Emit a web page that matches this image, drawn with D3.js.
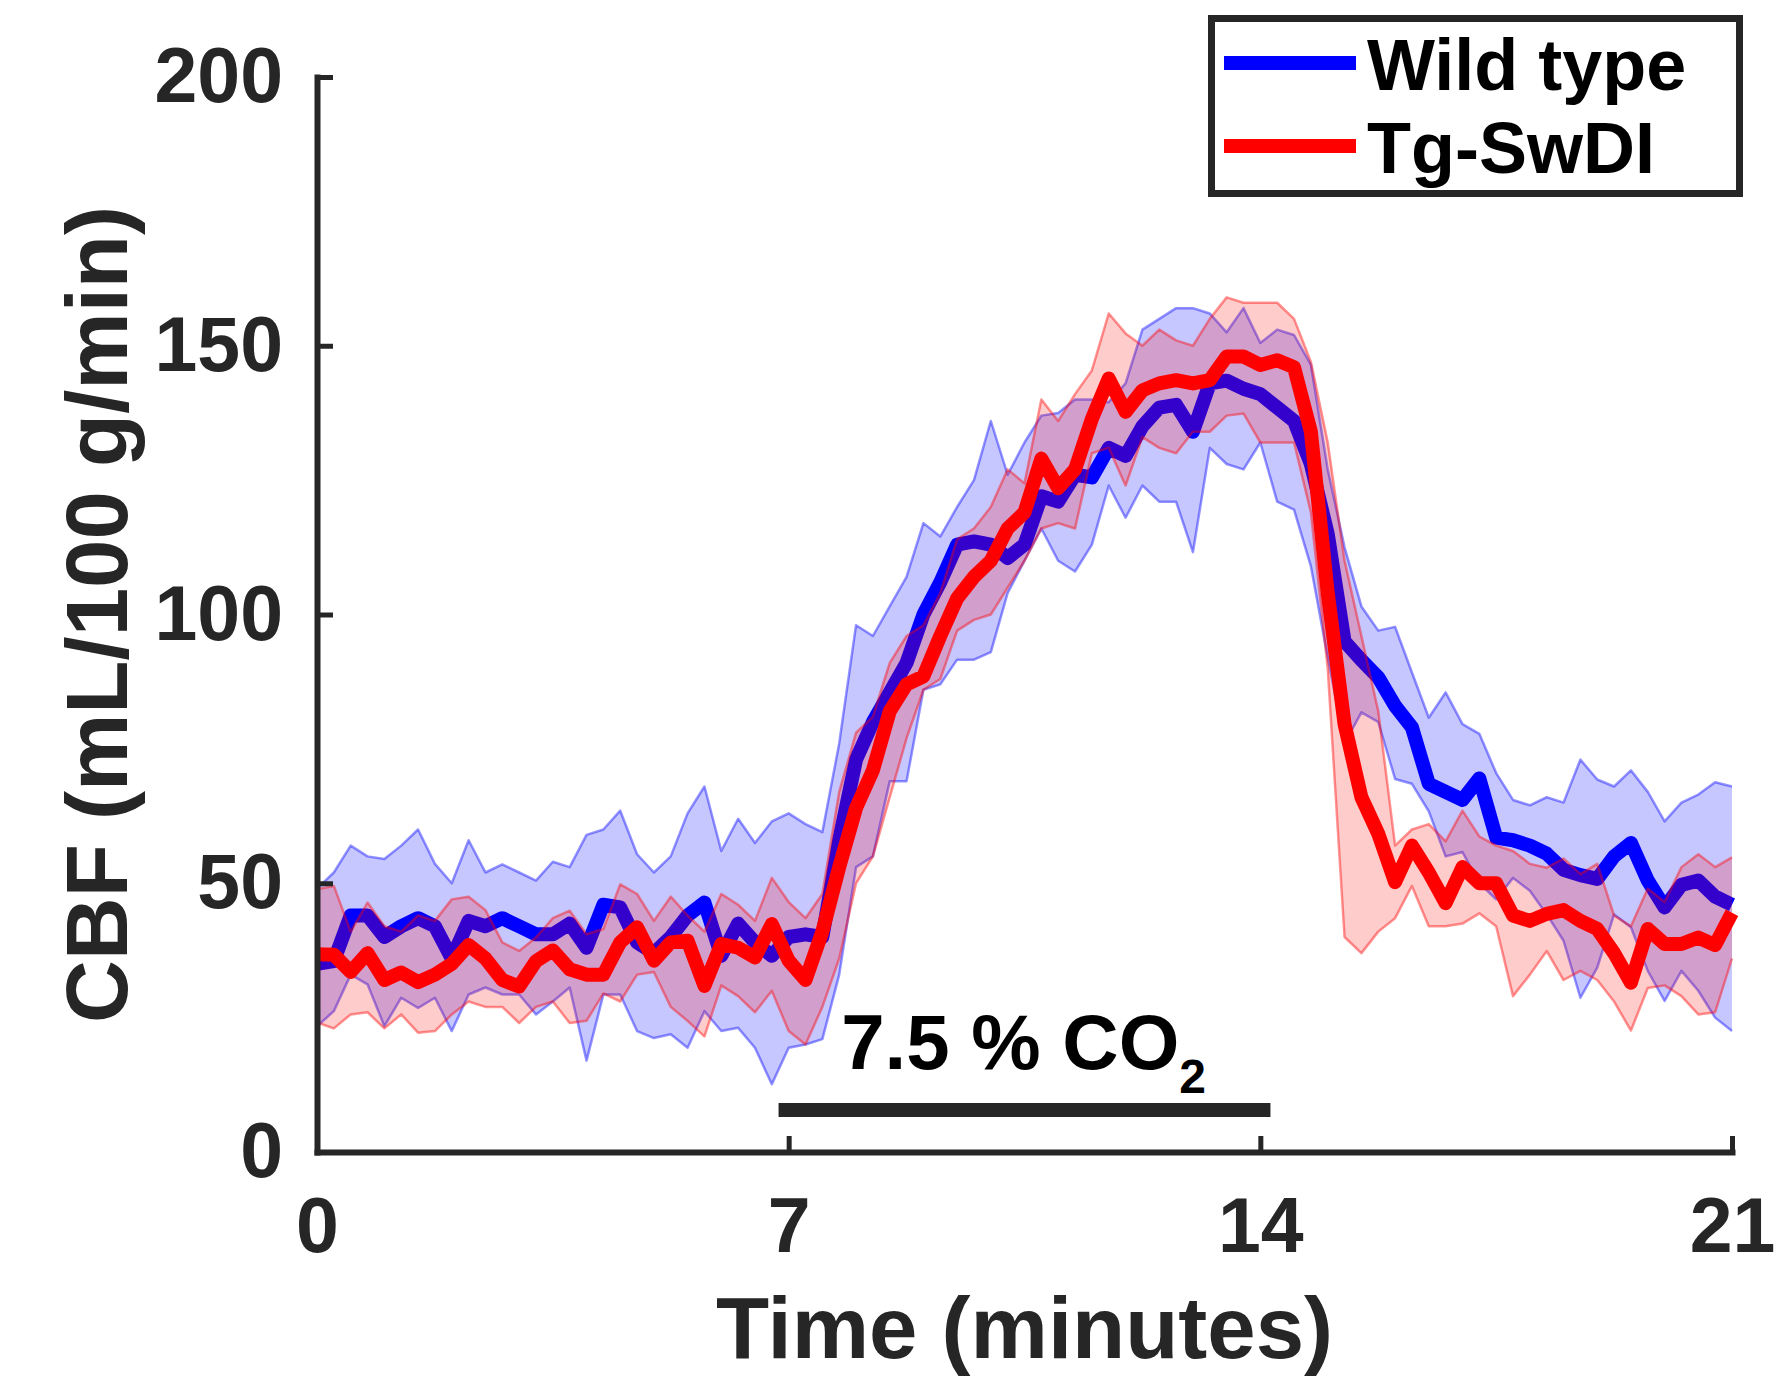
<!DOCTYPE html>
<html>
<head>
<meta charset="utf-8">
<script src="https://cdn.jsdelivr.net/npm/d3@7/dist/d3.min.js"></script>
<style>
  body { margin: 0; background: #fff; }
  svg text { font-family: "Liberation Sans", Arial, Helvetica, sans-serif; font-weight: bold; }
</style>
</head>
<body>
<div id="chart"></div>
<script>
// sample times (minutes)
const timeMin = [0,0.25,0.5,0.75,1,1.25,1.5,1.75,2,2.25,2.5,2.75,3,3.25,3.5,3.75,4,4.25,4.5,4.75,
  5,5.25,5.5,5.75,6,6.25,6.5,6.75,7,7.25,7.5,7.75,8,8.25,8.5,8.75,9,9.25,9.5,9.75,
  10,10.25,10.5,10.75,11,11.25,11.5,11.75,12,12.25,12.5,12.75,13,13.25,13.5,13.75,14,14.25,14.5,14.75,
  15,15.25,15.5,15.75,16,16.25,16.5,16.75,17,17.25,17.5,17.75,18,18.25,18.5,18.75,19,19.25,19.5,19.75,
  20,20.25,20.5,20.75,21];

// Wild type CBF: mean and shaded band
const wtMean = [35,35.5,44,44,40,42,43.5,42,36,43, 42,43.5,42,40.5,40.5,42.5,38,46,45.5,39,
  37,40,44,46.4,36.5,42.5,39,36.5,40,40.5, 40,58,73,80,85.5,91,100,106,113,113.6,
  113,110.5,113,122,121,126,125.5,131,129.5,135, 138.5,139,134,143,143.5,142,141,138.5,136,128,
  115,95,91.5,88.3,83,79,68.5,67,65.5,69.5, 58.5,58,57,55.5,52.5,51.5,50.8,55,57.5,50.5,
  45.5,49.7,50.5,47.5,46];
const wtUpper = [49,52,57,55,54.5,57,60,53.6,50,58, 52,53.5,52,50.5,54,53,59,60,63.5,55.4,
  52,55,63,68,56,62,57.5,61.5,63,61, 59.5,76,98,96,101.5,107,117,114.5,120,125,
  136,126,132,137,137.5,140,140,139.5,143,153, 155,157,157,156,152.5,157,150.5,153,152,146.5,
  127,112.5,101.5,97,97.7,89.2,80.8,85.5,79.6,77.8, 70.5,65.5,64.5,66,65,73,69.3,68,71,67,
  61.5,65,66.5,68.8,68];
const wtLower = [23.4,26.2,33,31.2,23.4,28.7,26.8,28.7,22.5,29.3, 30.6,29.3,29.3,25.6,28,30.6,17,29.3,29.3,22.5,
  21.2,21.9,19.4,26.2,22.5,23.1,19.4,12.6,19.4,20, 21,33,53,55,69,69,86,87,91.6,91.6,
  93,104,110,116,110,108,113,124,118,124, 121,121,111.6,131,128,127,132,121,119.5,109,
  92,76,81.8,80,69.4,68.5,63.4,55,55.8,50, 47,51,48.6,44.2,39.3,28.7,34.3,44.2,41.8,33.7,
  28.1,33.7,30,25,22.5];

// Tg-SwDI CBF: mean and shaded band
const tgMean = [36.8,36.7,33.5,37,32,33.4,31.6,33,35,38.5, 36,32,30.8,35.5,37.5,34,33,33,39,41.8,
  35.6,39,39.3,30.9,38.7,38,36.2,42.4,35.6,32, 41,53,64,71,82,87,88.5,96,103,107,
  110,116,119,129,123.5,127,136.4,143.9,137.7,141.7, 143,143.6,143,143.6,148,148,146.4,147.3,146,134,
  104,79.6,66,59.2,50.2,57,52,46.3,53,50, 50,44,43,44.3,45,43,41.5,37,31.5,41.5,
  38.7,38.7,39.9,38.5,44.5];
const tgUpper = [48.9,49.5,41,46.4,42,41,44,43,47,47.5, 45,39,37.4,39.9,43.5,44.9,40.5,41.5,49.8,48,
  43,47.5,44,41,48,46,43,51,46.5,43.5, 48,67,78,81,91,96,98,104,114,116,
  120,127,124.4,140,136,141,145.4,156,152.3,150, 153,151,150,155,159,158,158,158,155,147,
  132,110,96,82,57,60,61,57.8,63.5,58.7, 57,56,53.6,52.9,54.6,51.7,53.6,44,42,49,
  46.5,53,55.4,53,54.8];
const tgLower = [24.1,23,25.6,26,23,25.6,22.2,22.5,25.6,28, 27,27,24,27,28,24,24.4,29.5,28,33,
  33.5,27,24.4,21.5,31,29,26,30,22.5,20, 27,36,50,55,66,77,86,88,97,99,
  100,105,110,116,117,116,130,131,124,133, 131,130,134,134,137,137.4,132,132,132,119,
  90,40,37,41,43.5,49.5,42,42,42.5,44.4, 42,29,33,37.4,32,33.7,32,28,22.6,30.5,
  31,29,25.6,26,36];

const xTicks = [0, 7, 14, 21];
const yTicks = [0, 50, 100, 150, 200];
const seriesNames = ["Wild type", "Tg-SwDI"];
const co2Window = [6.85, 14.15]; // minutes, gas on
const co2Level = 7.8;           // drawn height of the bar (data units)

const width = 1777, height = 1376;
const axisColor = "#262626";

const x = d3.scaleLinear().domain([0, 21]).range([317, 1732]);
const y = d3.scaleLinear().domain([0, 200]).range([1152, 77]);

const svg = d3.select("#chart").append("svg")
    .attr("width", width)
    .attr("height", height)
    .style("background", "#fff");

const series = [
  {name: seriesNames[0], mean: wtMean, lo: wtLower, hi: wtUpper, color: "#0000ff",
   fill: "rgba(0,0,255,0.22)", edge: "rgba(0,0,255,0.42)"},
  {name: seriesNames[1], mean: tgMean, lo: tgLower, hi: tgUpper, color: "#ff0000",
   fill: "rgba(255,0,0,0.2)", edge: "rgba(255,0,0,0.42)"}
];

// shaded bands + mean lines, one series after the other
series.forEach(s => {
  const idx = d3.range(timeMin.length);
  const area = d3.area()
      .x(i => x(timeMin[i]))
      .y0(i => y(s.lo[i]))
      .y1(i => y(s.hi[i]));
  svg.append("path")
      .attr("d", area(idx))
      .attr("fill", s.fill)
      .attr("stroke", "none");

  [s.hi, s.lo].forEach(arr => {
    svg.append("path")
        .attr("d", d3.line().x(i => x(timeMin[i])).y(i => y(arr[i]))(idx))
        .attr("fill", "none")
        .attr("stroke", s.edge)
        .attr("stroke-width", 2.5)
        .attr("stroke-linejoin", "round");
  });

  svg.append("path")
      .attr("d", d3.line().x(i => x(timeMin[i])).y(i => y(s.mean[i]))(idx))
      .attr("fill", "none")
      .attr("stroke", s.color)
      .attr("stroke-width", 14)
      .attr("stroke-linejoin", "round");
});

// axes, ticks pointing inward
const xAxis = svg.append("g")
    .attr("transform", `translate(0,${y(0)})`)
    .call(d3.axisBottom(x).tickValues(xTicks).tickSizeInner(-16).tickSizeOuter(0).tickPadding(45));
const yAxis = svg.append("g")
    .attr("transform", `translate(${x(0)},0)`)
    .call(d3.axisLeft(y).tickValues(yTicks).tickSizeInner(-16).tickSizeOuter(0).tickPadding(34));

[xAxis, yAxis].forEach(g => {
  g.select(".domain").attr("stroke", axisColor).attr("stroke-width", 6).attr("stroke-linecap", "square");
  g.selectAll(".tick line").attr("stroke", axisColor).attr("stroke-width", 5);
  g.selectAll(".tick text")
      .attr("fill", axisColor)
      .style("font-size", "77px")
      .style("font-family", '"Liberation Sans", Arial, sans-serif')
      .style("font-weight", "bold");
});

// axis titles
svg.append("text")
    .attr("x", (x(0) + x(21)) / 2)
    .attr("y", 1358)
    .attr("text-anchor", "middle")
    .attr("fill", axisColor)
    .style("font-size", "87px")
    .text("Time (minutes)");

svg.append("text")
    .attr("transform", `translate(127,${(y(0) + y(200)) / 2}) rotate(-90)`)
    .attr("text-anchor", "middle")
    .attr("fill", axisColor)
    .style("font-size", "87px")
    .text("CBF (mL/100 g/min)");

// CO2 challenge bar + label
svg.append("line")
    .attr("x1", x(co2Window[0])).attr("x2", x(co2Window[1]))
    .attr("y1", y(co2Level)).attr("y2", y(co2Level))
    .attr("stroke", axisColor)
    .attr("stroke-width", 14);

const co2Text = svg.append("text")
    .attr("x", x(7.78))
    .attr("y", 1069)
    .attr("fill", "#000")
    .style("font-size", "78px");
co2Text.append("tspan").text("7.5 % CO");
co2Text.append("tspan").attr("dy", 24).style("font-size", "48px").text("2");

// legend
const legend = svg.append("g");
legend.append("rect")
    .attr("x", 1211.5).attr("y", 18.5)
    .attr("width", 528).attr("height", 175)
    .attr("fill", "#fff")
    .attr("stroke", axisColor)
    .attr("stroke-width", 7);

const legendRows = [63, 146];
series.forEach((s, i) => {
  legend.append("line")
      .attr("x1", 1224).attr("x2", 1356)
      .attr("y1", legendRows[i]).attr("y2", legendRows[i])
      .attr("stroke", s.color)
      .attr("stroke-width", 14);
  legend.append("text")
      .attr("x", 1367)
      .attr("y", legendRows[i] + 27)
      .attr("fill", "#000")
      .style("font-size", "72px")
      .text(s.name);
});
</script>
</body>
</html>
